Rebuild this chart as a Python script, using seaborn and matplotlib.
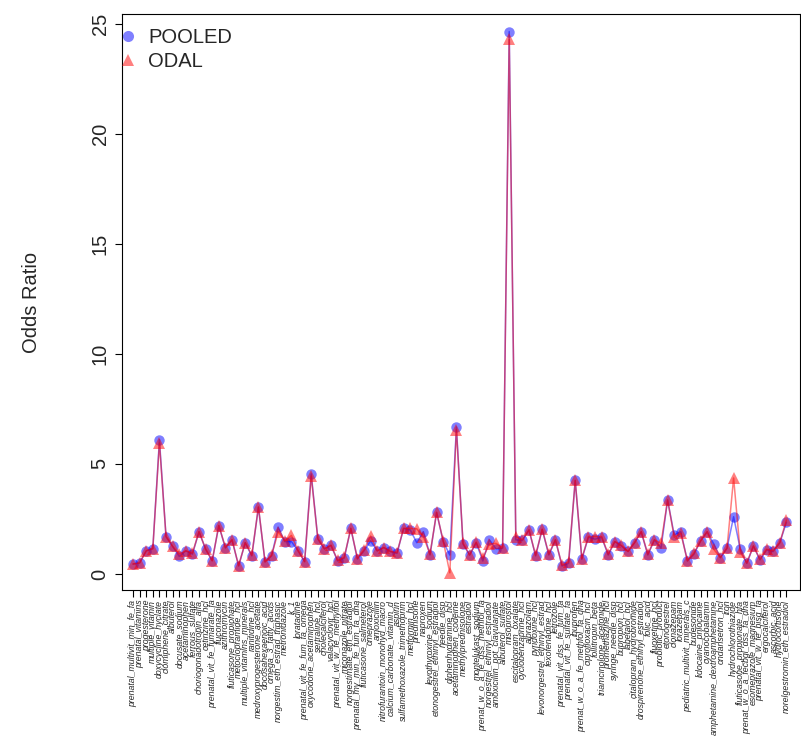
import matplotlib
matplotlib.use("Agg")
import matplotlib.pyplot as plt
from matplotlib.lines import Line2D
import seaborn as sns
import pandas as pd
import numpy as np

drugs = [
    "prenatal_multivit_min_fe_fa", "prenatal_vitamins", "progesterone", "multiple_vitamin",
    "doxycycline_hyclate", "clomiphene_citrate", "albuterol", "docusate_sodium",
    "acetaminophen", "ferrous_sulfate", "choriogonadotropin_alfa", "cetirizine_hcl",
    "prenatal_vit_fe_fumarate_fa", "fluconazole", "azithromycin", "fluticasone_propionate",
    "metoclopramide_hcl", "multiple_vitamins_minerals", "ranitidine_hcl",
    "medroxyprogesterone_acetate", "docosahexaenoic_acid", "omega_3_fatty_acids",
    "norgestim_eth_estrad_triphasic", "metronidazole", "k_1", "loratadine",
    "prenatal_vit_fe_fum_fa_omega", "oxycodone_acetaminophen", "sertraline_hcl",
    "cholecalciferol", "valacyclovir_hcl", "prenatal_vit_w_fe_methylfol",
    "miconazole_nitrate", "norgestimate_eth_estradiol", "prenatal_mv_min_fe_fum_fa_dha",
    "fluticasone_salmeterol", "omeprazole", "amoxicillin", "nitrofurantoin_monohyd_macro",
    "calcium_carbonate_vitamin_d", "aspirin", "sulfamethoxazole_trimethoprim",
    "metformin_hcl", "prednisone", "naproxen", "levothyroxine_sodium",
    "etonogestrel_ethinyl_estradiol", "needle_disp", "diphenhydramine_hcl",
    "acetaminophen_codeine", "methylprednisolone", "estradiol", "montelukast_sodium",
    "prenat_w_o_a_fe_dss_methfol_fa", "norgestrel_ethinyl_estradiol",
    "amoxicillin_pot_clavulanate", "albuterol_sulfate", "misoprostol",
    "escitalopram_oxalate", "cyclobenzaprine_hcl", "alprazolam", "pyridoxine_hcl",
    "levonorgestrel_ethinyl_estrad", "fexofenadine_hcl", "letrozole",
    "prenatal_vit_dss_fe_fum_fa", "prenatal_vit_fe_sulfate_fa", "ibuprofen",
    "prenat_w_o_a_fe_methfol_fa_dha", "ciprofloxacin_hcl", "follitropin_beta",
    "triamcinolone_acetonide", "promethazine_hcl", "syringe_needle_disp",
    "bupropion_hcl", "labetalol_hcl", "citalopram_hydrobromide",
    "drospirenone_ethinyl_estradiol", "folic_acid", "fluoxetine_hcl",
    "probiotic_product", "etonogestrel", "clonazepam", "lorazepam",
    "pediatric_multivit_minerals_c", "budesonide", "lidocaine_prilocaine",
    "cyanocobalamin", "amphetamine_dextroamphetamine", "ondansetron_hcl", "iron",
    "hydrochlorothiazide", "fluticasone_propionate_hfa", "prenat_w_o_a_fecbgl_dss_fa_dha",
    "esomeprazole_magnesium", "prenatal_vit_w_fe_bisg_fa", "ergocalciferol",
    "ascorbic_acid", "hydrocortisone", "norelgestromin_eth_estradiol",
]

pooled = [
    0.45, 0.50, 1.05, 1.15, 6.10, 1.70, 1.25, 0.80, 1.05, 0.90,
    1.92, 1.13, 0.60, 2.20, 1.18, 1.55, 0.36, 1.42, 0.82, 3.03,
    0.55, 0.82, 2.12, 1.47, 1.47, 1.06, 0.56, 4.55, 1.60, 1.14,
    1.30, 0.59, 0.72, 2.07, 0.68, 1.05, 1.50, 1.05, 1.20, 1.02,
    0.94, 2.07, 2.00, 1.42, 1.92, 0.86, 2.80, 1.47, 0.86, 6.68,
    1.36, 0.86, 1.42, 0.59, 1.55, 1.14, 1.17, 24.65, 1.55, 1.52,
    2.00, 0.82, 2.03, 0.86, 1.55, 0.36, 0.48, 4.25, 0.67, 1.67,
    1.58, 1.67, 0.86, 1.47, 1.27, 1.02, 1.42, 1.92, 0.86, 1.55,
    1.17, 3.36, 1.77, 1.92, 0.59, 0.90, 1.50, 1.92, 1.35, 0.74,
    1.17, 2.60, 1.14, 0.48, 1.27, 0.64, 1.09, 1.02, 1.42, 2.35,
]

odal = [
    0.45, 0.50, 1.05, 1.15, 5.95, 1.70, 1.25, 0.90, 1.05, 0.95,
    1.92, 1.13, 0.60, 2.20, 1.20, 1.55, 0.38, 1.42, 0.85, 3.05,
    0.55, 0.85, 1.92, 1.50, 1.75, 1.06, 0.56, 4.45, 1.60, 1.14,
    1.30, 0.62, 0.75, 2.07, 0.70, 1.10, 1.72, 1.05, 1.20, 1.02,
    0.97, 2.07, 2.07, 2.05, 1.70, 0.90, 2.80, 1.50, 0.05, 6.55,
    1.40, 0.86, 1.45, 0.72, 1.36, 1.39, 1.20, 24.30, 1.70, 1.55,
    2.00, 0.85, 2.03, 0.90, 1.55, 0.40, 0.55, 4.25, 0.70, 1.70,
    1.70, 1.70, 0.90, 1.47, 1.30, 1.02, 1.42, 1.92, 0.90, 1.55,
    1.39, 3.36, 1.67, 1.85, 0.60, 0.95, 1.50, 1.92, 1.12, 0.74,
    1.17, 4.36, 1.00, 0.50, 1.27, 0.66, 1.12, 1.05, 1.42, 2.45,
]

series_names = ["POOLED", "ODAL"]
yticks = [0, 5, 10, 15, 20, 25]

sns.set_style("ticks")
plt.rcParams["font.family"] = ["Liberation Sans", "DejaVu Sans"]

df = pd.DataFrame({"pos": np.arange(len(drugs)), "drug": drugs,
                   "POOLED": pooled, "ODAL": odal})

fig = plt.figure(figsize=(8.01, 7.42), dpi=100)
ax = fig.add_axes([122 / 801, 1 - 590 / 742, (800 - 122) / 801, (590 - 14) / 742])

sns.lineplot(data=df, x="pos", y="POOLED", ax=ax, color="#0000FF", alpha=0.5,
             marker="o", markersize=7.5, markeredgewidth=0, linewidth=1.1)
sns.lineplot(data=df, x="pos", y="ODAL", ax=ax, color="#FF0000", alpha=0.5,
             marker="^", markersize=8.5, markeredgewidth=0, linewidth=1.1)

ax.set_xlim(-1.67, 101.06)
ax.set_ylim(-0.73, 25.45)
ax.set_xticks(df["pos"])
ax.set_xticklabels(drugs, rotation=90, fontsize=6.3, style="italic")
ax.set_yticks(yticks)
ax.set_yticklabels([str(t) for t in yticks], fontsize=14.5, rotation=90, va="center")
ax.tick_params(axis="both", direction="out", length=5, width=0.8, color="black")
ax.tick_params(axis="x", pad=2)
ax.tick_params(axis="y", pad=4)
ax.set_xlabel("")
ax.set_ylabel("Odds Ratio", fontsize=14.5)
ax.yaxis.set_label_coords(-0.119, 0.5)
for s in ax.spines.values():
    s.set_visible(True)
    s.set_linewidth(0.8)
    s.set_color("black")

handles = [
    Line2D([], [], linestyle="none", marker="o", color="#0000FF", alpha=0.5,
           markersize=8, markeredgewidth=0, label="POOLED"),
    Line2D([], [], linestyle="none", marker="^", color="#FF0000", alpha=0.5,
           markersize=9, markeredgewidth=0, label="ODAL"),
]
ax.legend(handles=handles, loc="upper left", bbox_to_anchor=(-0.018, 0.99),
          frameon=False, fontsize=14.5,
          handlelength=1.0, handletextpad=0.5, borderaxespad=0.2,
          labelspacing=0.25, borderpad=0.2)

fig.savefig("out.png", dpi=100)
